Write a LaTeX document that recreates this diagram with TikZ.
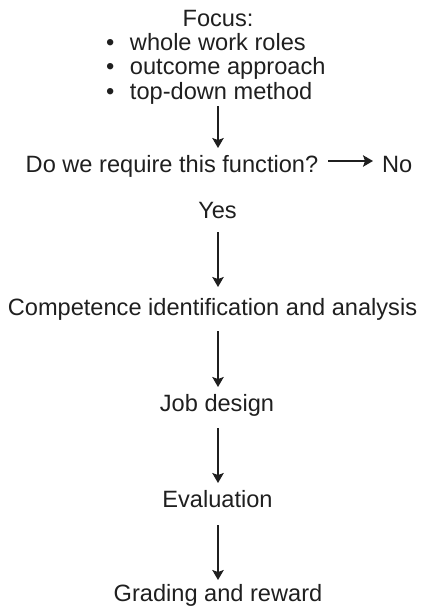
\documentclass[tikz,border=0pt]{standalone}
\usepackage{fontspec}
\setmainfont{Liberation Sans}
\usetikzlibrary{arrows.meta,calc}
\begin{document}
\begin{tikzpicture}[x=1pt,y=1pt,
  lbl/.style={inner sep=0pt,outer sep=0pt,font=\fontsize{23.6pt}{24.5pt}\selectfont,text=black!88},
  arr/.style={line width=1.2pt,draw=black!88,-{Stealth[length=10pt,width=11.5pt,inset=2pt]}}]
\useasboundingbox (0,0) rectangle (427,-606);
% nodes
\node[lbl,anchor=base] (focus) at (218,-26) {Focus:};
\node[lbl,anchor=base west] (b1) at (106,-50) {\makebox[24pt][l]{•}whole work roles};
\node[lbl,anchor=base west] (b2) at (106,-74.5) {\makebox[24pt][l]{•}outcome approach};
\node[lbl,anchor=base west] (b3) at (106,-99) {\makebox[24pt][l]{•}top-down method};
\node[lbl,anchor=base] (q) at (172,-172) {Do we require this function?};
\node[lbl,anchor=base west] (no) at (382,-172) {No};
\node[lbl,anchor=base] (yes) at (217.5,-218) {Yes};
\node[lbl,anchor=base] (comp) at (212.5,-315) {Competence identification and analysis};
\node[lbl,anchor=base] (job) at (217,-411) {Job design};
\node[lbl,anchor=base] (eval) at (217.5,-507) {Evaluation};
\node[lbl,anchor=base] (grade) at (218,-601) {Grading and reward};
% connectors
\draw[arr] ($(focus.base |- b3.base)+(0,-7)$) -- ($(focus.base |- q.base)+(0,24)$);
\draw[arr] ($(q.base east)+(10,11)$) -- ($(no.base west)+(-9,11)$);
\draw[arr] ($(yes.base)+(0.5,-14)$) -- ($(yes.base |- comp.base)+(0.5,28)$);
\draw[arr] ($(yes.base |- comp.base)+(0.5,-16)$) -- ($(yes.base |- job.base)+(0.5,24)$);
\draw[arr] ($(yes.base |- job.base)+(0.5,-17)$) -- ($(yes.base |- eval.base)+(0.5,24)$);
\draw[arr] ($(yes.base |- eval.base)+(0.5,-18)$) -- ($(yes.base |- grade.base)+(0.5,21)$);
\end{tikzpicture}
\end{document}
